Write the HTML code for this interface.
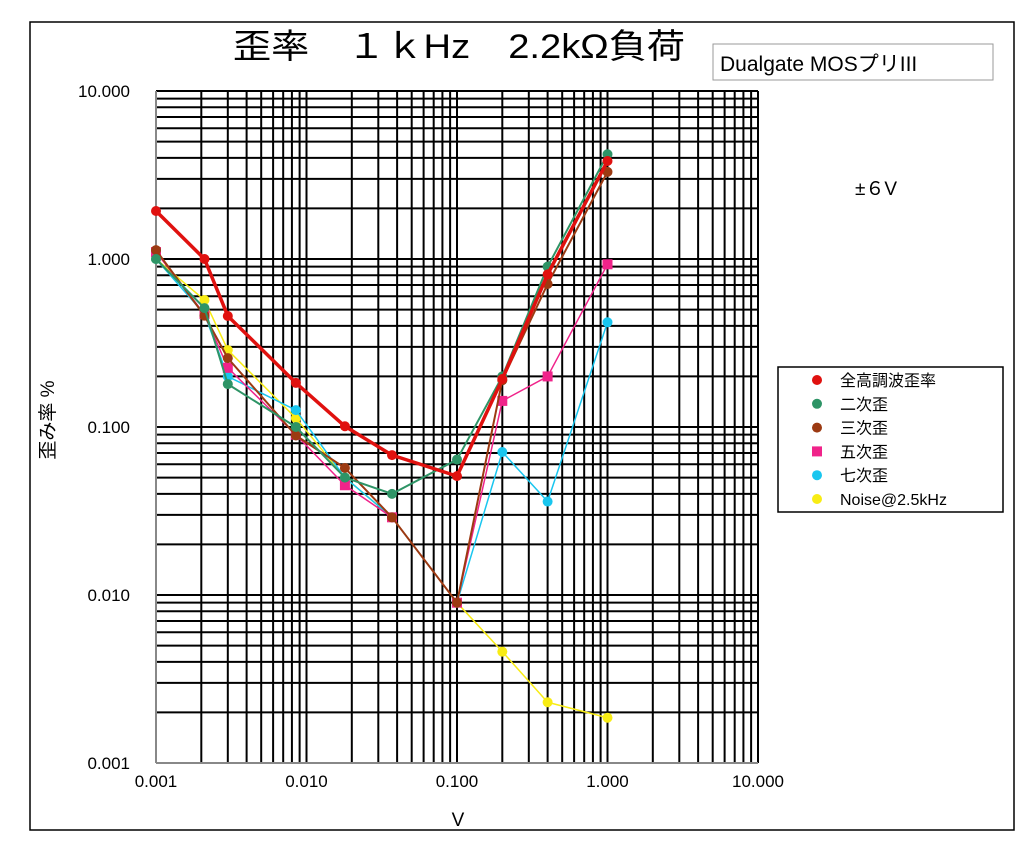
<!DOCTYPE html>
<html><head><meta charset="utf-8">
<style>
html,body{margin:0;padding:0;background:#fff;width:1024px;height:849px;overflow:hidden}
svg{display:block}
text{font-family:"Liberation Sans","Noto Sans CJK JP",sans-serif}
</style></head>
<body>
<svg id="chart" width="1024" height="849" viewBox="0 0 1024 849">
<rect x="30" y="22" width="984" height="808" fill="#fff" stroke="#000" stroke-width="1.5"/>
<text x="459" y="58" text-anchor="middle" font-size="34" textLength="452" lengthAdjust="spacingAndGlyphs">歪率　１ｋHz　2.2kΩ負荷</text>
<rect x="713" y="44" width="280" height="36" fill="#fff" stroke="#999" stroke-width="1"/>
<text x="720" y="71" font-size="21">Dualgate MOSプリIII</text>
<text x="855" y="195" font-size="19">±６V</text>
<text x="458" y="826" text-anchor="middle" font-size="19">V</text>
<text transform="translate(54,420) rotate(-90)" text-anchor="middle" font-size="19">歪み率 %</text>
<g id="grid"></g><g id="ticks"></g><g id="series"></g>
<g id="legend">
<rect x="778" y="367" width="225" height="145" fill="#fff" stroke="#000" stroke-width="1.5"/>
</g>
</svg>
<script>
const xValues=[0.001,0.0021,0.003,0.0085,0.018,0.037,0.1,0.2,0.4,1.0];
const seriesNames=["全高調波歪率","二次歪","三次歪","五次歪","七次歪","Noise@2.5kHz"];
const thd=[1.93,1.0,0.458,0.183,0.101,0.068,0.051,0.193,0.81,3.83];
const h2=[1.0,0.51,0.18,0.10,0.05,0.04,0.064,0.2,0.9,4.2];
const h3=[1.13,0.46,0.257,0.089,0.057,0.029,0.009,0.19,0.71,3.3];
const h5=[1.1,0.47,0.225,0.09,0.045,0.029,0.009,0.143,0.2,0.93];
const h7=[1.0,0.47,0.2,0.126,0.05,0.029,0.009,0.071,0.036,0.42];
const noise=[1.0,0.57,0.287,0.113,0.05,0.029,0.009,0.0046,0.0023,0.00186];
const xTickLabels=["0.001","0.010","0.100","1.000","10.000"];
const yTickLabels=["0.001","0.010","0.100","1.000","10.000"];
const seriesData=[thd,h2,h3,h5,h7,noise];
const colors=["#e0110f","#2e9466","#9c3a12","#f0238a","#19c6ef","#f8ec14"];
const widths=[3.5,2,2,1.5,1.5,1.5];
const shapes=["c","c","c","s","c","c"];
const X0=156,X1=758,Y0=763,Y1=91;
const xs=v=>X0+(Math.log10(v)+3)/4*(X1-X0);
const ys=v=>Y0-(Math.log10(v)+3)/4*(Y0-Y1);
const NS="http://www.w3.org/2000/svg";
function mk(tag,attrs,parent){const e=document.createElementNS(NS,tag);for(const k in attrs)e.setAttribute(k,attrs[k]);parent.appendChild(e);return e;}
const grid=document.getElementById('grid');
for(let d=-3;d<1;d++){for(let k=1;k<=10;k++){const v=k*Math.pow(10,d);
 const gx=mk('line',{x1:xs(v),x2:xs(v),y1:Y1,y2:Y0,stroke:'#000','stroke-width':2},grid);
 
 
 const gy=mk('line',{x1:X0,x2:X1,y1:ys(v),y2:ys(v),stroke:'#000','stroke-width':2},grid);
 
 }}
mk('line',{x1:X0,x2:X0,y1:Y1,y2:Y0,stroke:'#888','stroke-width':2},grid);
mk('line',{x1:X0,x2:X1,y1:Y0,y2:Y0,stroke:'#888','stroke-width':2},grid);
const ticks=document.getElementById('ticks');
xTickLabels.forEach((t,i)=>{const e=mk('text',{x:xs(Math.pow(10,i-3)),y:787,'text-anchor':'middle','font-size':17},ticks);e.textContent=t;
 
 });
yTickLabels.forEach((t,i)=>{const e=mk('text',{x:130,y:ys(Math.pow(10,i-3))+6,'text-anchor':'end','font-size':17},ticks);e.textContent=t;
 
 });
const sg=document.getElementById('series');
function marker(shape,x,y,r,col,parent){
 if(shape==='s')return mk('rect',{x:x-r,y:y-r,width:2*r,height:2*r,fill:col},parent);
 return mk('circle',{cx:x,cy:y,r:r,fill:col},parent);}
const order=[5,4,3,2,1,0];
order.forEach(i=>{const g=mk('g',{},sg);
 
 
 const pts=xValues.map((x,j)=>xs(x)+','+ys(seriesData[i][j])).join(' ');
 mk('polyline',{points:pts,fill:'none',stroke:colors[i],'stroke-width':widths[i],'stroke-linejoin':'round'},g);
 xValues.forEach((x,j)=>{const m=marker(shapes[i],xs(x),ys(seriesData[i][j]),5,colors[i],g);
  
  });});
const lg=document.getElementById('legend');
seriesNames.forEach((n,i)=>{const y=380+i*23.8;const g=mk('g',{},lg);
 
 
 marker(shapes[i],817,y,5,colors[i],g);
 const t=mk('text',{x:840,y:y+6,'font-size':16},g);t.textContent=n;});
</script>
</body></html>
